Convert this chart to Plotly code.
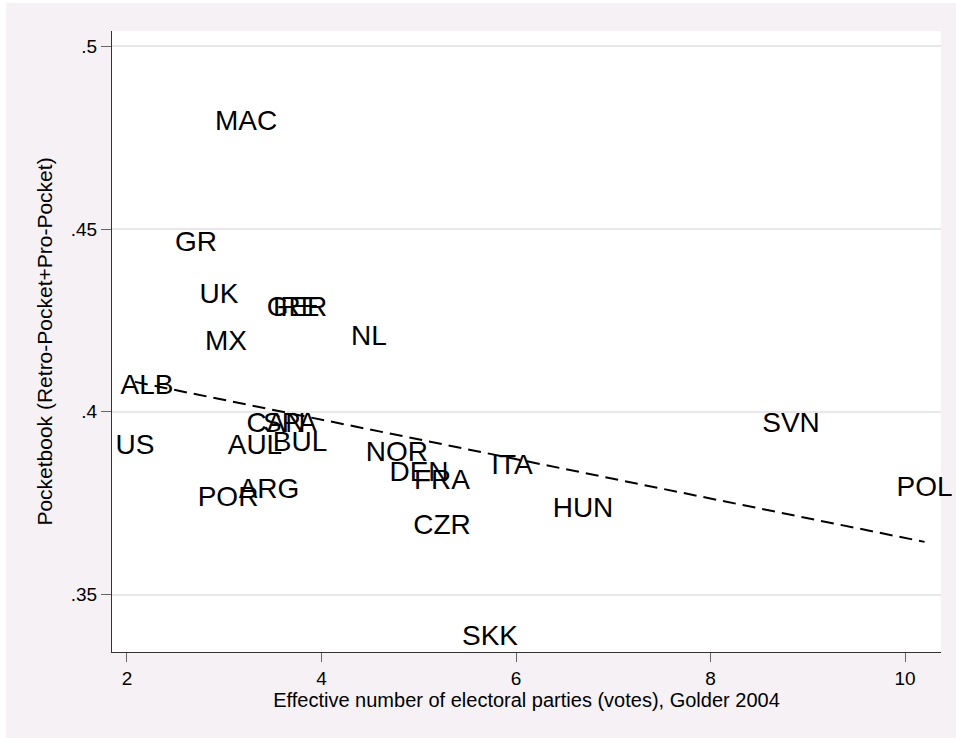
import plotly.graph_objects as go

# Country labels (centered on their data points)
countries = ["MAC", "GR", "UK", "IRE", "GER", "MX", "NL", "ALB", "US", "CAN", "SPA",
             "AUL", "BUL", "POR", "ARG", "NOR", "DEN", "FRA", "ITA", "CZR", "HUN",
             "SVN", "POL", "SKK"]
# Effective number of electoral parties (votes), Golder 2004
enep = [3.224, 2.710, 2.946, 3.738, 3.748, 3.018, 4.488, 2.206, 2.082, 3.532, 3.676,
        3.316, 3.779, 3.039, 3.460, 4.776, 5.003, 5.239, 5.959, 5.239, 6.689,
        8.828, 10.201, 5.733]
# Pocketbook (Retro-Pocket+Pro-Pocket)
pocketbook = [0.4791, 0.4460, 0.4318, 0.4282, 0.4282, 0.4189, 0.4203, 0.4068, 0.3904,
              0.3964, 0.3964, 0.3904, 0.3912, 0.3762, 0.3784, 0.3885, 0.3830, 0.3808,
              0.3849, 0.3685, 0.3732, 0.3964, 0.3789, 0.3381]

# Linear fit (endpoints)
fit_x = [2.082, 10.201]
fit_y = [0.4082, 0.3644]

x_ticks = [2, 4, 6, 8, 10]
x_tick_text = ["2", "4", "6", "8", "10"]
y_ticks = [0.35, 0.40, 0.45, 0.50]
y_tick_text = [".35", ".4", ".45", ".5"]

BG = "#F5F1F5"
FONT = "Liberation Sans, Arial, Helvetica, sans-serif"

fig = go.Figure()
fig.add_trace(go.Scatter(
    x=fit_x, y=fit_y, mode="lines",
    line=dict(color="black", width=2, dash="13px,7px"),
    hoverinfo="skip", showlegend=False))
fig.add_trace(go.Scatter(
    x=enep, y=pocketbook, mode="text", text=countries,
    textposition="middle center", cliponaxis=False,
    textfont=dict(family=FONT, size=28, color="black"),
    showlegend=False))

W, H = 956, 738
L, R, T, B = 112, 15, 31, 86
pw = W - L - R
ph = H - T - B

fig.update_layout(
    width=W, height=H,
    margin=dict(l=L, r=R, t=T, b=B, pad=0),
    paper_bgcolor=BG, plot_bgcolor="white",
    font=dict(family=FONT, color="black"),
    xaxis=dict(
        range=[1.846, 10.370], tickvals=x_ticks, ticktext=x_tick_text,
        showgrid=False, zeroline=False, showline=True, linecolor="#333333", linewidth=1,
        ticks="outside", ticklen=9, tickcolor="#666666", tickwidth=1,
        tickfont=dict(size=19, family=FONT, color="black"),
        title=dict(text="Effective number of electoral parties (votes), Golder 2004",
                   font=dict(size=20, family=FONT, color="black"), standoff=0),
    ),
    yaxis=dict(
        range=[0.33426, 0.50424], tickvals=y_ticks, ticktext=y_tick_text,
        showgrid=True, gridcolor="#EAE6EA", gridwidth=2, zeroline=False,
        showline=True, linecolor="#333333", linewidth=1,
        ticks="outside", ticklen=10, tickcolor="#666666", tickwidth=1,
        tickfont=dict(size=19, family=FONT, color="black"),
        title=dict(text="Pocketbook (Retro-Pocket+Pro-Pocket)",
                   font=dict(size=21, family=FONT, color="black"), standoff=12),
    ),
    shapes=[
        dict(type="rect", xref="paper", yref="paper",
             x0=-L / pw - 0.01, x1=(-L + 6) / pw, y0=-B / ph - 0.01, y1=(ph + T) / ph + 0.01,
             fillcolor="white", line=dict(width=0), layer="above"),
        dict(type="rect", xref="paper", yref="paper",
             x0=-L / pw - 0.01, x1=(pw + R) / pw + 0.01, y0=(ph + T - 3) / ph, y1=(ph + T) / ph + 0.01,
             fillcolor="white", line=dict(width=0), layer="above"),
    ],
)

fig.write_html(
    "out.html",
    config={"displayModeBar": False},
    post_script="document.body.style.margin='0';document.body.style.overflow='hidden';",
)
